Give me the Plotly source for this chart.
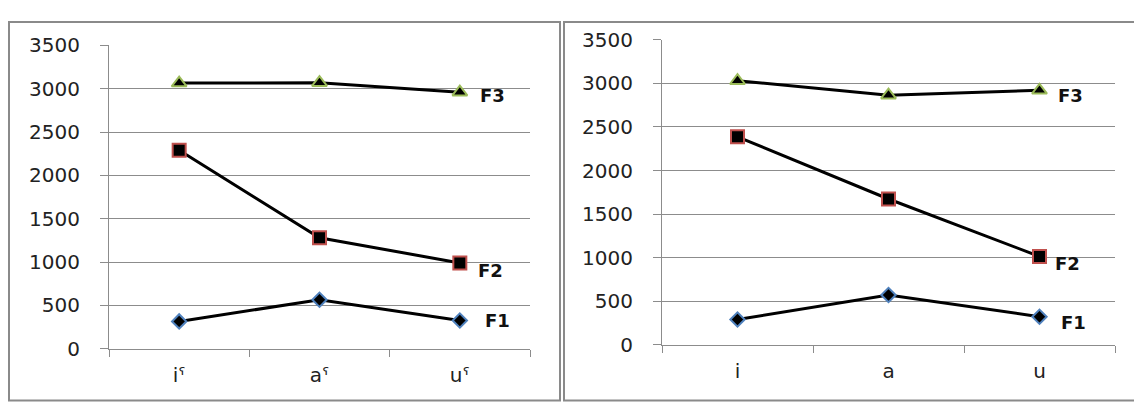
import plotly.graph_objects as go

# ---- data ----
cats_left = ["iˤ", "aˤ", "uˤ"]
cats_right = ["i", "a", "u"]
f1_left = [315, 565, 326]
f2_left = [2290, 1280, 990]
f3_left = [3065, 3070, 2960]
f1_right = [292, 573, 324]
f2_right = [2387, 1674, 1015]
f3_right = [3030, 2865, 2920]
series_names = ["F1", "F2", "F3"]
y_ticks = [0, 500, 1000, 1500, 2000, 2500, 3000, 3500]

W, H = 1142, 413
OFF = 8  # page body margin offset


def px(x):
    return (x - OFF) / W


def py(y):
    return 1 - (y - OFF) / H


fig = go.Figure()

marker_styles = {
    "F1": dict(symbol="diamond", size=11, color="black", line=dict(color="#4F81BD", width=2)),
    "F2": dict(symbol="square", size=13, color="black", line=dict(color="#C0504D", width=2)),
    "F3": dict(symbol="triangle-up", size=13, color="black", line=dict(color="#9BBB59", width=2)),
}

panels = [
    ("x", "y", cats_left, [f1_left, f2_left, f3_left]),
    ("x2", "y2", cats_right, [f1_right, f2_right, f3_right]),
]
for xa, ya, cats, vals in panels:
    for name, v in zip(series_names, vals):
        fig.add_trace(go.Scatter(
            x=cats, y=v, name=name, mode="lines+markers",
            line=dict(color="black", width=3),
            marker=marker_styles[name],
            xaxis=xa, yaxis=ya, showlegend=False, cliponaxis=False,
        ))

# series labels at last point
label_shifts = {
    "x": {"F1": (23, 0), "F2": (16, -8), "F3": (18, -3)},
    "x2": {"F1": (19, -6), "F2": (13, -7), "F3": (16, -5)},
}
for xa, ya, cats, vals in panels:
    for name, v in zip(series_names, vals):
        dx, dy = label_shifts[xa][name]
        fig.add_annotation(
            x=cats[-1], y=v[-1], xref=xa, yref=ya, text="<b>%s</b>" % name,
            showarrow=False, xanchor="left", yanchor="middle",
            xshift=dx, yshift=dy,
            font=dict(family="DejaVu Sans", size=18, color="#111"),
        )

axis_common = dict(
    showline=True, linecolor="#8c8c8c", linewidth=1,
    ticks="outside", tickcolor="#8c8c8c", tickwidth=1,
    tickfont=dict(family="DejaVu Sans", size=20, color="#222"),
)

fig.update_layout(
    width=W, height=H,
    margin=dict(l=0, r=0, t=0, b=0),
    paper_bgcolor="white", plot_bgcolor="white",
    xaxis=dict(domain=[px(109), px(530)], anchor="y", type="category",
               range=[-0.5, 2.5], tickson="boundaries", ticklen=7,
               showgrid=False, ticklabelstandoff=8, **axis_common),
    yaxis=dict(domain=[py(357), py(35)], anchor="x", range=[0, 3500],
               tickvals=y_ticks, ticklen=8, showgrid=True,
               gridcolor="#8c8c8c", gridwidth=1, zeroline=False,
               ticklabelstandoff=16, **axis_common),
    xaxis2=dict(domain=[px(662), px(1115)], anchor="y2", type="category",
                range=[-0.5, 2.5], tickson="boundaries", ticklen=7,
                showgrid=False, ticklabelstandoff=8, **axis_common),
    yaxis2=dict(domain=[py(353), py(29)], anchor="x2", range=[0, 3500],
                tickvals=y_ticks, ticklen=8, showgrid=True,
                gridcolor="#8c8c8c", gridwidth=1, zeroline=False,
                ticklabelstandoff=16, **axis_common),
)

# chart borders
fig.add_shape(type="rect", xref="paper", yref="paper",
              x0=1 / W, x1=px(560), y0=py(412), y1=py(10),
              line=dict(color="#8a8a8a", width=2), layer="below")
fig.add_shape(type="rect", xref="paper", yref="paper",
              x0=px(564), x1=px(1160), y0=py(412), y1=py(10),
              line=dict(color="#8a8a8a", width=2), layer="below")

fig.write_html("out.html")
